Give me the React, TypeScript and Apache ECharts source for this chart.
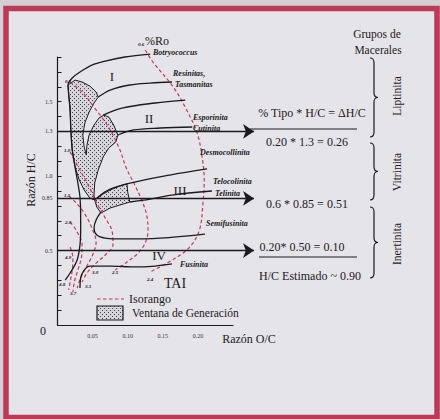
import React, { useEffect, useRef } from 'react';
import * as echarts from 'echarts';

// ---------- data (O/C, H/C) ----------
const xTickLabels = ['0.05', '0.10', '0.15', '0.20'];
const yTickValues = [0.5, 0.85, 1.0, 1.3, 1.5];
const yTickLabels = ['0.5', '0.85', '1.0', '1.3', '1.5'];

const botryococcus = [
  [0.132, 1.82], [0.096, 1.8], [0.068, 1.773], [0.049, 1.746], [0.032, 1.699], [0.021, 1.659],
  [0.015, 1.612], [0.016, 1.545], [0.018, 1.444], [0.019, 1.31], [0.021, 1.175], [0.025, 1.061],
  [0.029, 0.954], [0.032, 0.86], [0.033, 0.739], [0.033, 0.625], [0.032, 0.537], [0.028, 0.437],
  [0.018, 0.349], [0.011, 0.302],
];
const resinitas = [[0.058, 1.531], [0.075, 1.578], [0.103, 1.612], [0.132, 1.625], [0.163, 1.632]];
const typeIIUpper = [[0.065, 1.41], [0.092, 1.457], [0.139, 1.491], [0.182, 1.511]];
const cutinita = [[0.086, 1.276], [0.108, 1.31], [0.146, 1.323], [0.192, 1.33]];
const telocolinita = [[0.056, 0.853], [0.075, 0.913], [0.11, 0.96], [0.16, 1.007], [0.213, 1.048]];
const telinita = [[0.103, 0.826], [0.132, 0.846], [0.163, 0.873], [0.22, 0.9]];
const semifusinita = [
  [0.062, 0.759], [0.055, 0.705], [0.052, 0.651], [0.056, 0.604], [0.068, 0.584],
  [0.096, 0.578], [0.146, 0.584], [0.21, 0.611],
];
const fusinita = [
  [0.032, 0.248], [0.033, 0.316], [0.038, 0.369], [0.046, 0.396], [0.075, 0.396],
  [0.11, 0.39], [0.139, 0.396], [0.163, 0.41],
];

const iso06 = [
  [0.125, 1.847], [0.136, 1.766], [0.165, 1.598], [0.184, 1.444], [0.199, 1.289], [0.206, 1.128],
  [0.209, 0.974], [0.207, 0.806], [0.203, 0.651], [0.193, 0.551], [0.179, 0.484], [0.156, 0.416],
  [0.132, 0.356],
];
const iso05 = [
  [0.018, 1.632], [0.035, 1.565], [0.053, 1.457], [0.068, 1.363], [0.079, 1.276], [0.089, 1.175],
  [0.098, 1.054], [0.108, 0.96], [0.12, 0.839], [0.127, 0.739], [0.129, 0.638], [0.125, 0.551],
  [0.115, 0.484], [0.099, 0.423], [0.082, 0.369],
];
const iso10 = [
  [0.018, 1.162], [0.032, 1.041], [0.046, 0.92], [0.056, 0.819], [0.068, 0.719], [0.078, 0.625],
  [0.079, 0.537], [0.068, 0.47], [0.055, 0.416], [0.043, 0.356], [0.035, 0.289],
];
const iso15 = [
  [0.016, 0.866], [0.028, 0.813], [0.039, 0.745], [0.049, 0.651], [0.055, 0.557], [0.05, 0.47],
  [0.041, 0.39], [0.033, 0.316], [0.028, 0.248],
];
const iso20 = [
  [0.018, 0.692], [0.028, 0.625], [0.035, 0.537], [0.034, 0.45], [0.029, 0.369], [0.024, 0.289],
  [0.022, 0.222],
];
const iso40 = [[0.018, 0.524], [0.022, 0.45], [0.021, 0.369], [0.018, 0.289], [0.016, 0.235]];

const windowA = [
  [0.015, 1.612], [0.025, 1.645], [0.035, 1.632], [0.046, 1.605], [0.055, 1.565], [0.058, 1.531],
  [0.052, 1.491], [0.045, 1.43], [0.039, 1.357], [0.036, 1.276], [0.038, 1.195], [0.041, 1.142],
  [0.042, 1.209], [0.045, 1.276], [0.052, 1.343], [0.059, 1.39], [0.066, 1.41], [0.073, 1.397],
  [0.08, 1.343], [0.086, 1.276], [0.083, 1.229], [0.073, 1.189], [0.065, 1.128], [0.058, 1.041],
  [0.053, 0.954], [0.052, 0.873], [0.053, 0.839], [0.046, 0.853], [0.038, 0.907], [0.031, 0.974],
  [0.025, 1.061], [0.021, 1.175], [0.019, 1.31], [0.018, 1.444], [0.016, 1.545],
];
const windowB = [
  [0.053, 0.839], [0.065, 0.88], [0.075, 0.907], [0.089, 0.934], [0.099, 0.947], [0.1, 0.893],
  [0.103, 0.826], [0.089, 0.806], [0.075, 0.786], [0.062, 0.752], [0.056, 0.792],
];

const refLines = [1.3, 0.85, 0.5];
const refLineEnd = 0.28;

// ---------- styling ----------
const SERIF = "'Liberation Serif', 'Times New Roman', serif";
const INK = '#1c1a1e';
const RED = '#c23a5d';

const brace = (h: number) =>
  `M0 0 C3 0 4 1.5 4 5 L4 ${h / 2 - 5} C4 ${h / 2 - 1.5} 5 ${h / 2} 8 ${h / 2} ` +
  `C5 ${h / 2} 4 ${h / 2 + 1.5} 4 ${h / 2 + 5} L4 ${h - 5} C4 ${h - 1.5} 3 ${h} 0 ${h}`;
echarts.graphic.registerShape('braceLip', echarts.graphic.extendPath(brace(79), {}));
echarts.graphic.registerShape('braceVit', echarts.graphic.extendPath(brace(57), {}));
echarts.graphic.registerShape('braceIne', echarts.graphic.extendPath(brace(71), {}));

function makePattern() {
  const c = document.createElement('canvas');
  c.width = 4;
  c.height = 4;
  const ctx = c.getContext('2d')!;
  ctx.fillStyle = '#d6d5db';
  ctx.fillRect(0, 0, 4, 4);
  ctx.fillStyle = '#45424a';
  ctx.fillRect(0, 0, 1, 1);
  ctx.fillRect(2, 2, 1, 1);
  return { image: c, repeat: 'repeat' };
}

function txt(text: string, x: number, y: number, o: any = {}) {
  return {
    type: 'text',
    x,
    y,
    rotation: o.rotation || 0,
    z: 100,
    style: {
      text,
      fill: INK,
      fontFamily: SERIF,
      fontSize: o.size || 11.5,
      fontStyle: o.italic ? 'italic' : 'normal',
      fontWeight: o.bold ? 'bold' : 'normal',
      align: o.align || 'center',
      verticalAlign: 'middle',
    },
  };
}

export default function App() {
  const ref = useRef<HTMLDivElement>(null);
  useEffect(() => {
    if (!ref.current) return;
    const chart = echarts.init(ref.current, null, { renderer: 'svg' });
    const pattern = makePattern();

    const solid = (name: string, data: number[][]) => ({
      name,
      type: 'line',
      data,
      smooth: 0.35,
      symbol: 'none',
      clip: false,
      silent: true,
      z: 4,
      lineStyle: { color: INK, width: 1.3 },
    });
    const dashed = (data: number[][]) => ({
      name: 'Isorango',
      type: 'line',
      data,
      smooth: 0.35,
      symbol: 'none',
      clip: false,
      silent: true,
      z: 3,
      lineStyle: { color: RED, width: 1.2, type: [3.5, 2.5] },
    });
    const poly = (pts: number[][]) => ({
      name: 'Ventana de Generación',
      type: 'custom',
      coordinateSystem: 'cartesian2d',
      data: [[0, 0]],
      clip: false,
      silent: true,
      z: 2,
      renderItem: (_p: any, api: any) => ({
        type: 'polygon',
        shape: { points: pts.map((p) => api.coord(p)) },
        style: { fill: pattern, stroke: INK, lineWidth: 1 },
      }),
    });

    const near = (v: number, w: number) => Math.abs(v - w) < 1e-6;

    const option: any = {
      animation: false,
      backgroundColor: '#d3ced3',
      grid: { left: 57.5, top: 57, width: 175.5, height: 268 },
      xAxis: {
        type: 'value',
        min: 0,
        max: 0.25,
        interval: 0.05,
        splitLine: { show: false },
        axisTick: { show: false },
        axisLine: { lineStyle: { color: INK, width: 1.2 } },
        axisLabel: {
          fontFamily: SERIF,
          fontSize: 6,
          color: '#333',
          margin: 8,
          formatter: (v: number) => {
            const i = Math.round(v / 0.05) - 1;
            return i >= 0 && i < xTickLabels.length ? xTickLabels[i] : '';
          },
        },
      },
      yAxis: [
        {
          type: 'value',
          min: 0,
          max: 1.8,
          interval: 0.1,
          splitLine: { show: false },
          axisLine: { show: true, lineStyle: { color: INK, width: 1.2 } },
          axisTick: { show: true, inside: true, length: 4, lineStyle: { color: INK } },
          axisLabel: { show: false },
        },
        {
          type: 'value',
          min: 0,
          max: 1.8,
          interval: 0.05,
          position: 'left',
          splitLine: { show: false },
          axisLine: { show: false },
          axisTick: { show: false },
          axisLabel: {
            fontFamily: SERIF,
            fontSize: 6,
            color: '#333',
            margin: 5,
            formatter: (v: number) => {
              const i = yTickValues.findIndex((w) => near(v, w));
              return i >= 0 ? yTickLabels[i] : '';
            },
          },
        },
      ],
      series: [
        poly(windowA),
        poly(windowB),
        solid('Botryococcus', botryococcus),
        solid('Resinitas', resinitas),
        solid('Tipo II', typeIIUpper),
        solid('Cutinita', cutinita),
        solid('Telocolinita', telocolinita),
        solid('Telinita', telinita),
        solid('Semifusinita', semifusinita),
        solid('Fusinita', fusinita),
        dashed(iso06),
        dashed(iso05),
        dashed(iso10),
        dashed(iso15),
        dashed(iso20),
        dashed(iso40),
        {
          type: 'lines',
          coordinateSystem: 'cartesian2d',
          clip: false,
          silent: true,
          z: 5,
          symbol: ['none', 'arrow'],
          symbolSize: 11,
          lineStyle: { color: INK, width: 1.3, opacity: 1 },
          data: refLines.map((v) => ({ coords: [[0, v], [refLineEnd, v]] })),
        },
      ],
      graphic: [
        {
          type: 'rect',
          z: -100,
          silent: true,
          shape: { x: 6, y: 8.5, width: 431, height: 409 },
          style: { fill: '#e5e4e9', stroke: '#bb3a57', lineWidth: 5.5 },
        },
        // braces
        { type: 'braceLip', x: 370, y: 58, z: 100, style: { fill: 'none', stroke: INK, lineWidth: 1.2 } },
        { type: 'braceVit', x: 370, y: 143, z: 100, style: { fill: 'none', stroke: INK, lineWidth: 1.2 } },
        { type: 'braceIne', x: 370, y: 207, z: 100, style: { fill: 'none', stroke: INK, lineWidth: 1.2 } },
        // fraction lines
        { type: 'line', z: 100, shape: { x1: 250, y1: 129, x2: 357, y2: 129 }, style: { stroke: INK, lineWidth: 1.2 } },
        { type: 'line', z: 100, shape: { x1: 259, y1: 257, x2: 357, y2: 257 }, style: { stroke: INK, lineWidth: 1.2 } },
        // legend
        { type: 'line', z: 100, shape: { x1: 97, y1: 299, x2: 124, y2: 299 }, style: { stroke: RED, lineWidth: 1.2, lineDash: [3.5, 2.5] } },
        { type: 'rect', z: 100, shape: { x: 97, y: 306, width: 26, height: 14 }, style: { fill: pattern, stroke: INK, lineWidth: 1.2 } },
        txt('Isorango', 129, 299, { align: 'left', size: 12 }),
        txt('Ventana de Generación', 132, 313, { align: 'left', size: 11.5 }),
        // axis titles
        txt('Razón H/C', 31, 180, { rotation: Math.PI / 2, size: 12 }),
        txt('Razón O/C', 249, 339, { size: 12 }),
        txt('0', 43, 331, { size: 12 }),
        // right side
        txt('Grupos de', 377, 34),
        txt('Macerales', 378, 50),
        txt('% Tipo * H/C = ΔH/C', 312, 113, { size: 12 }),
        txt('0.20 * 1.3 = 0.26', 307, 142, { size: 12 }),
        txt('0.6 * 0.85 = 0.51', 307, 204, { size: 12 }),
        txt('0.20* 0.50 = 0.10', 302, 247, { size: 12 }),
        txt('H/C Estimado ~ 0.90', 310, 276, { size: 12 }),
        txt('Liptinita', 397, 96, { rotation: Math.PI / 2, size: 11.5 }),
        txt('Vitrinita', 397, 172, { rotation: Math.PI / 2, size: 11.5 }),
        txt('Inertinita', 397, 244, { rotation: Math.PI / 2, size: 11.5 }),
        // maceral labels
        txt('Botryococcus', 153, 52, { align: 'left', size: 8, italic: true, bold: true }),
        txt('Resinitas,', 173, 73, { align: 'left', size: 8, italic: true, bold: true }),
        txt('Tasmanitas', 175, 84, { align: 'left', size: 8, italic: true, bold: true }),
        txt('Esporinita', 193, 117, { align: 'left', size: 8, italic: true, bold: true }),
        txt('Cutinita', 193, 128, { align: 'left', size: 8, italic: true, bold: true }),
        txt('Desmocollinita', 200, 152, { align: 'left', size: 8, italic: true, bold: true }),
        txt('Telocolinita', 213, 181, { align: 'left', size: 8, italic: true, bold: true }),
        txt('Telinita', 215, 193, { align: 'left', size: 8, italic: true, bold: true }),
        txt('Semifusinita', 206, 223, { align: 'left', size: 8, italic: true, bold: true }),
        txt('Fusinita', 180, 264, { align: 'left', size: 8, italic: true, bold: true }),
        // kerogen types
        txt('I', 112, 76, { size: 13 }),
        txt('II', 149, 118, { size: 13 }),
        txt('III', 180, 190, { size: 13 }),
        txt('IV', 159, 255, { size: 13 }),
        txt('TAI', 175, 283, { size: 14 }),
        txt('%Ro', 145, 41, { align: 'left', size: 12 }),
        // isorank / TAI small labels
        txt('0.6', 138, 44, { align: 'left', size: 5, bold: true, italic: true }),
        txt('0.5', 68, 81, { size: 5, bold: true, italic: true }),
        txt('1.0', 67, 150, { size: 5, bold: true, italic: true }),
        txt('1.5', 67, 195, { size: 5, bold: true, italic: true }),
        txt('2.0', 68, 222, { size: 5, bold: true, italic: true }),
        txt('4.0', 68, 257, { size: 5, bold: true, italic: true }),
        txt('4.8', 62, 284, { size: 5, bold: true, italic: true }),
        txt('3.7', 73, 293, { size: 5, bold: true, italic: true }),
        txt('3.5', 88, 286, { size: 5, bold: true, italic: true }),
        txt('3.0', 95, 272, { size: 5, bold: true, italic: true }),
        txt('2.5', 115, 272, { size: 5, bold: true, italic: true }),
        txt('2.4', 150, 279, { size: 5, bold: true, italic: true }),
      ],
    };
    chart.setOption(option);
    return () => chart.dispose();
  }, []);

  return (
    <div
      ref={ref}
      style={{ position: 'fixed', left: 0, top: 0, width: 440, height: 419 }}
    />
  );
}
